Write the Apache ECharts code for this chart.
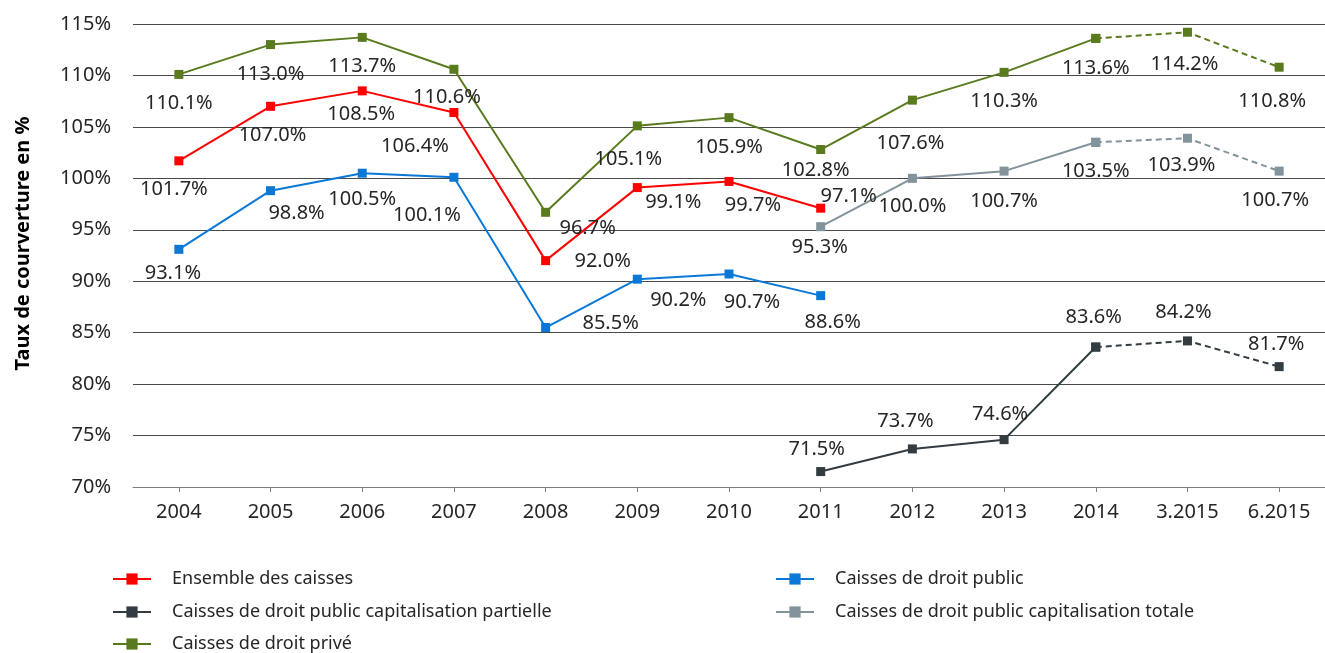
<!DOCTYPE html>
<html lang="fr" style="height: 100%">
<head>
    <meta charset="utf-8">
    <title>Taux de couverture</title>
    <script src="https://cdn.jsdelivr.net/npm/echarts@6.0.0/dist/echarts.min.js"></script>
    <style>
        html, body { margin: 0; padding: 0; background: #fff; }
        #chart { width: 1325px; height: 653px; }
    </style>
</head>
<body>
<div id="chart"></div>

<script type="text/javascript">
    var categories = ['2004', '2005', '2006', '2007', '2008', '2009', '2010', '2011', '2012', '2013', '2014', '3.2015', '6.2015'];
    var yTicks = [70, 75, 80, 85, 90, 95, 100, 105, 110, 115];

    var ensemble  = [101.7, 107.0, 108.5, 106.4, 92.0, 99.1, 99.7, 97.1, null, null, null, null, null];
    var droitPublic = [93.1, 98.8, 100.5, 100.1, 85.5, 90.2, 90.7, 88.6, null, null, null, null, null];
    var partielle = [null, null, null, null, null, null, null, 71.5, 73.7, 74.6, 83.6, 84.2, 81.7];
    var totale    = [null, null, null, null, null, null, null, 95.3, 100.0, 100.7, 103.5, 103.9, 100.7];
    var prive     = [110.1, 113.0, 113.7, 110.6, 96.7, 105.1, 105.9, 102.8, 107.6, 110.3, 113.6, 114.2, 110.8];

    // à partir de 2014 : ligne pointillée
    var dashFrom = 10;

    // décalage des étiquettes [dx, dy] par rapport au point
    var offPrive = [[0,29],[0,30],[0,29],[-7,28],[42,16],[-9,33],[0,30],[-5,21],[-2,43],[0,29],[0,30],[-3,32],[-7,34]];
    var offEnsemble = [[-5,28],[2,29],[-1,23],[-39,34],[57,1],[36,15],[24,24],[28,-12]];
    var offPublic = [[-6,24],[26,23],[0,26],[-27,38],[65,-4],[41,21],[23,28],[12,27]];
    var offPartielle = [null,null,null,null,null,null,null,[-4,-22],[-7,-28],[-4,-25],[-2,-30],[-4,-29],[-3,-22]];
    var offTotale = [null,null,null,null,null,null,null,[-1,21],[0,28],[0,30],[0,29],[-6,27],[-4,29]];

    var labelFont = 'Noto Sans';
    var textColor = '#262626';

    function buildData(values, offsets, from, to) {
        return values.map(function (v, i) {
            if (v == null || i < from || i > to) return null;
            var item = { value: v };
            var showLabel = (from === 0) ? true : i > from;
            if (showLabel && offsets[i]) {
                item.label = { show: true, offset: offsets[i] };
            } else {
                item.label = { show: false };
            }
            return item;
        });
    }

    function lineSeries(name, values, color, offsets, from, to, dashed) {
        return {
            name: name,
            type: 'line',
            data: buildData(values, offsets, from, to),
            symbol: 'rect',
            symbolSize: 9,
            color: color,
            lineStyle: { color: color, width: 2, type: dashed ? [6, 4] : 'solid' },
            itemStyle: { color: color },
            label: {
                show: true,
                position: 'inside',
                color: textColor,
                fontFamily: labelFont,
                fontSize: 20,
                formatter: function (p) { return p.value.toFixed(1) + '%'; }
            },
            emphasis: { disabled: true },
            animation: false
        };
    }

    var names = {
        ensemble: 'Ensemble des caisses',
        pub: 'Caisses de droit public',
        partielle: 'Caisses de droit public capitalisation partielle',
        totale: 'Caisses de droit public capitalisation totale',
        prive: 'Caisses de droit privé'
    };

    var series = [
        lineSeries(names.ensemble, ensemble, '#ff0000', offEnsemble, 0, 12, false),
        lineSeries(names.pub, droitPublic, '#0a78d6', offPublic, 0, 12, false),
        lineSeries(names.partielle, partielle, '#323c41', offPartielle, 0, dashFrom, false),
        lineSeries(names.partielle + ' ', partielle, '#323c41', offPartielle, dashFrom, 12, true),
        lineSeries(names.totale, totale, '#82939b', offTotale, 0, dashFrom, false),
        lineSeries(names.totale + ' ', totale, '#82939b', offTotale, dashFrom, 12, true),
        lineSeries(names.prive, prive, '#5a7a1e', offPrive, 0, dashFrom, false),
        lineSeries(names.prive + ' ', prive, '#5a7a1e', offPrive, dashFrom, 12, true)
    ];

    // une légende par entrée (deux colonnes, trois lignes)
    function legendItem(name, left, top) {
        return {
            data: [name],
            left: left,
            top: top,
            padding: 0,
            itemWidth: 38,
            itemHeight: 14,
            selectedMode: false,
            textStyle: { color: textColor, fontFamily: labelFont, fontSize: 18, padding: [0, 0, 0, 16] }
        };
    }

    var myChart = echarts.init(document.getElementById('chart'));
    myChart.setOption({
        backgroundColor: '#ffffff',
        animation: false,
        grid: { left: 133, right: -8, top: 24, bottom: 166 },
        legend: [
            legendItem(names.ensemble, 112, 570),
            legendItem(names.partielle, 112, 603),
            legendItem(names.prive, 112, 635),
            legendItem(names.pub, 775, 570),
            legendItem(names.totale, 775, 603)
        ],
        xAxis: {
            type: 'category',
            data: categories,
            boundaryGap: true,
            axisLine: { lineStyle: { color: '#7f7f7f', width: 1 } },
            axisTick: { show: true, alignWithLabel: true, length: 5, lineStyle: { color: '#7f7f7f' } },
            axisLabel: { color: textColor, fontFamily: labelFont, fontSize: 20, margin: 15 },
            splitLine: { show: false }
        },
        yAxis: {
            type: 'value',
            min: yTicks[0],
            max: yTicks[yTicks.length - 1],
            interval: 5,
            name: 'Taux de courverture en %',
            nameLocation: 'middle',
            nameGap: 100,
            nameTextStyle: { color: '#000', fontFamily: labelFont, fontSize: 20, fontWeight: 'bold', padding: [0, 0, 0, 24] },
            axisLine: { show: false },
            axisTick: { show: false },
            axisLabel: { color: textColor, fontFamily: labelFont, fontSize: 20, margin: 22, formatter: '{value}%' },
            splitLine: { lineStyle: { color: '#4a4a4a', width: 1 } }
        },
        series: series
    });
</script>
</body>
</html>
